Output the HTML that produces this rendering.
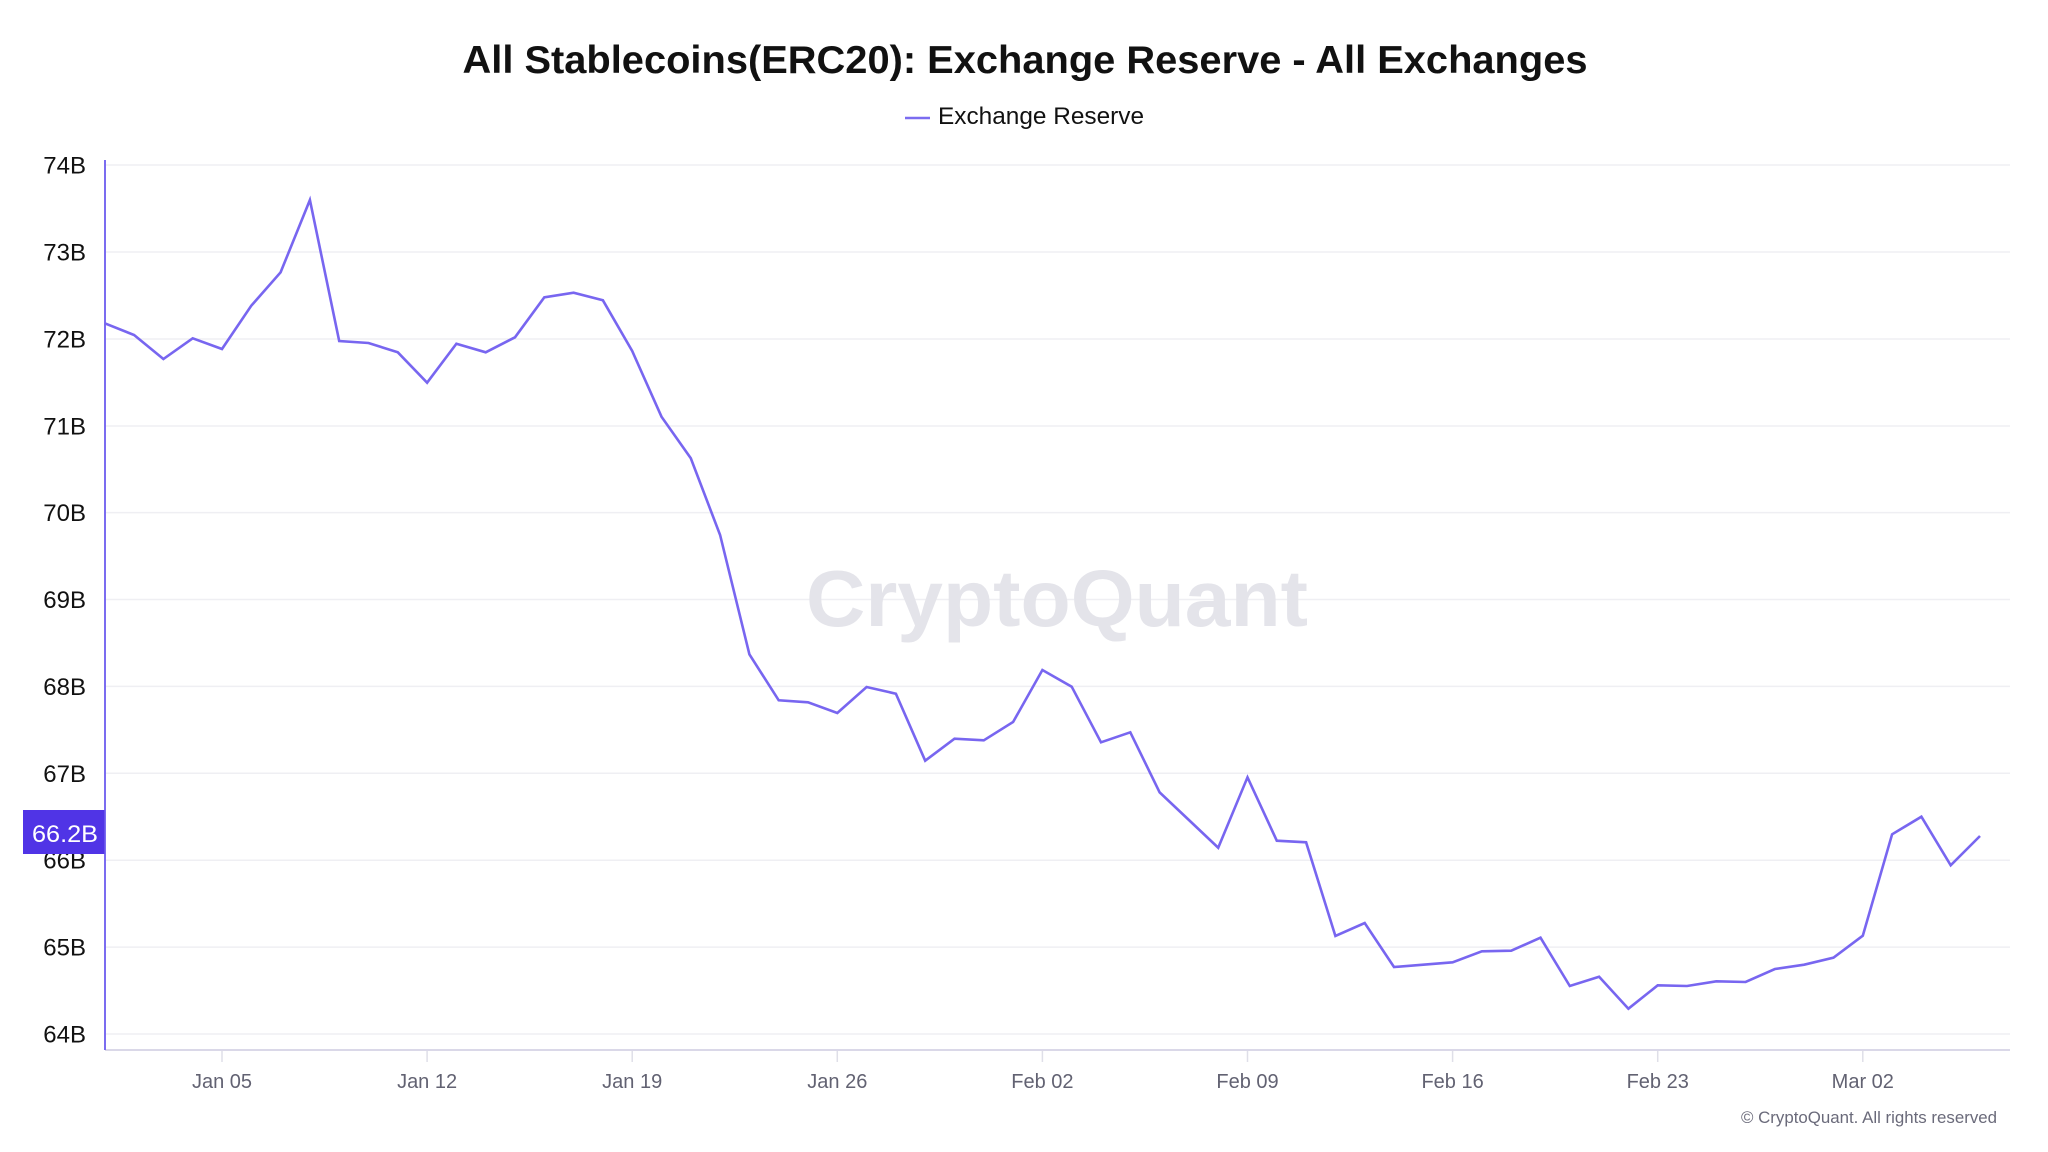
<!DOCTYPE html>
<html>
<head>
<meta charset="utf-8">
<style>
html,body{margin:0;padding:0;background:#ffffff;}
body{width:2048px;height:1152px;overflow:hidden;}
svg{display:block;}
text{font-family:"Liberation Sans", sans-serif;}
</style>
</head>
<body>
<svg width="2048" height="1152" viewBox="0 0 2048 1152" xmlns="http://www.w3.org/2000/svg">
  <rect x="0" y="0" width="2048" height="1152" fill="#ffffff"/>

  <!-- Title -->
  <text x="1025" y="73" font-size="39" font-weight="bold" fill="#111111" text-anchor="middle" textLength="1125" lengthAdjust="spacingAndGlyphs">All Stablecoins(ERC20): Exchange Reserve - All Exchanges</text>

  <!-- Legend -->
  <line x1="905" y1="118" x2="930" y2="118" stroke="#7b6cf0" stroke-width="2.5"/>
  <text x="938" y="124" font-size="24" fill="#111111" textLength="206" lengthAdjust="spacingAndGlyphs">Exchange Reserve</text>

  <!-- Gridlines -->
  <g stroke="#efeff3" stroke-width="1.5">
    <line x1="105" y1="165" x2="2010" y2="165"/>
    <line x1="105" y1="252" x2="2010" y2="252"/>
    <line x1="105" y1="339" x2="2010" y2="339"/>
    <line x1="105" y1="426" x2="2010" y2="426"/>
    <line x1="105" y1="512.6" x2="2010" y2="512.6"/>
    <line x1="105" y1="599.5" x2="2010" y2="599.5"/>
    <line x1="105" y1="686.4" x2="2010" y2="686.4"/>
    <line x1="105" y1="773.3" x2="2010" y2="773.3"/>
    <line x1="105" y1="860.2" x2="2010" y2="860.2"/>
    <line x1="105" y1="947.1" x2="2010" y2="947.1"/>
    <line x1="105" y1="1034" x2="2010" y2="1034"/>
  </g>

  <!-- Watermark -->
  <text x="806" y="626" font-size="80" font-weight="bold" fill="#e4e4ea" textLength="502" lengthAdjust="spacingAndGlyphs">CryptoQuant</text>

  <!-- Y axis labels -->
  <g font-size="24" fill="#111111" text-anchor="end">
    <text x="86" y="173.5">74B</text>
    <text x="86" y="260.5">73B</text>
    <text x="86" y="347.5">72B</text>
    <text x="86" y="434.5">71B</text>
    <text x="86" y="521">70B</text>
    <text x="86" y="608">69B</text>
    <text x="86" y="695">68B</text>
    <text x="86" y="782">67B</text>
    <text x="86" y="868.7">66B</text>
    <text x="86" y="955.6">65B</text>
    <text x="86" y="1042.5">64B</text>
  </g>

  <!-- X axis -->
  <line x1="105" y1="1050" x2="2010" y2="1050" stroke="#dad8e8" stroke-width="2"/>
  <g stroke="#dfdfe8" stroke-width="1.5">
    <line x1="222" y1="1051" x2="222" y2="1062"/>
    <line x1="427.1" y1="1051" x2="427.1" y2="1062"/>
    <line x1="632.2" y1="1051" x2="632.2" y2="1062"/>
    <line x1="837.3" y1="1051" x2="837.3" y2="1062"/>
    <line x1="1042.4" y1="1051" x2="1042.4" y2="1062"/>
    <line x1="1247.5" y1="1051" x2="1247.5" y2="1062"/>
    <line x1="1452.6" y1="1051" x2="1452.6" y2="1062"/>
    <line x1="1657.7" y1="1051" x2="1657.7" y2="1062"/>
    <line x1="1862.8" y1="1051" x2="1862.8" y2="1062"/>
  </g>
  <g font-size="20" fill="#626272" text-anchor="middle">
    <text x="222" y="1088">Jan 05</text>
    <text x="427.1" y="1088">Jan 12</text>
    <text x="632.2" y="1088">Jan 19</text>
    <text x="837.3" y="1088">Jan 26</text>
    <text x="1042.4" y="1088">Feb 02</text>
    <text x="1247.5" y="1088">Feb 09</text>
    <text x="1452.6" y="1088">Feb 16</text>
    <text x="1657.7" y="1088">Feb 23</text>
    <text x="1862.8" y="1088">Mar 02</text>
  </g>

  <!-- Y axis line -->
  <line x1="105" y1="160" x2="105" y2="1050" stroke="#7b6cf0" stroke-width="2"/>

  <!-- Series -->
  <polyline fill="none" stroke="#7866f0" stroke-width="2.6" stroke-linejoin="miter" stroke-miterlimit="4" points="
104.8,323.3 134.1,335 163.4,359 192.7,338.3 222.0,349 251.3,305.7 280.6,272.3 309.9,200 339.2,341 368.5,343
397.8,352.3 427.1,382.7 456.4,343.7 485.7,352.3 515.0,337.3 544.3,297.3 573.6,292.7 602.9,300.3 632.2,351 661.5,416.7
690.8,458.3 720.1,535 749.4,654.3 778.7,700.3 808.0,702.3 837.3,713 866.6,687 895.9,693.7 925.2,760.7 954.5,738.7
983.8,740.3 1013.1,722 1042.4,670 1071.7,686.7 1101.0,742.3 1130.3,732.3 1159.6,792.3 1188.9,820 1218.2,847.7 1247.5,777.3
1276.8,840.7 1306.1,842.3 1335.4,936 1364.7,923 1394.0,967 1423.3,964.7 1452.6,962.3 1481.9,951.3 1511.2,950.7 1540.5,937.7
1569.8,986 1599.1,976.7 1628.4,1008.7 1657.7,985.3 1687.0,986 1716.3,981.3 1745.6,982 1774.9,969 1804.2,964.7 1833.5,957.7
1862.8,935.7 1892.1,834.3 1921.4,816.7 1950.7,865.3 1980.0,836"/>

  <!-- Current value label -->
  <rect x="23" y="810" width="81.5" height="44" fill="#5034e6"/>
  <text x="32" y="842" font-size="24" fill="#ffffff" textLength="66" lengthAdjust="spacingAndGlyphs">66.2B</text>

  <!-- Footer -->
  <text x="1741" y="1123" font-size="17" fill="#6a6a7a" textLength="256" lengthAdjust="spacingAndGlyphs">© CryptoQuant. All rights reserved</text>
</svg>
</body>
</html>
